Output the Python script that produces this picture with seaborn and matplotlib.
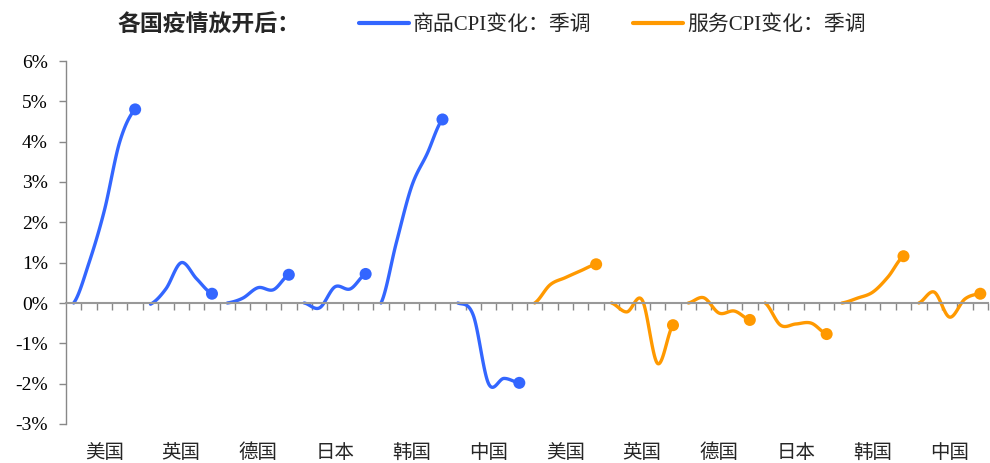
import numpy as np
import pandas as pd
import matplotlib
matplotlib.use("Agg")
import matplotlib.pyplot as plt
import matplotlib.transforms as mtransforms
from matplotlib.lines import Line2D
import seaborn as sns

# ---------------- data ----------------
countries = ["美国", "英国", "德国", "日本", "韩国", "中国"]
series_names = ["商品CPI变化：季调", "服务CPI变化：季调"]
goods = [
    [0.0, 1.0, 2.3, 4.0, 4.8],       # 美国
    [-0.03, 0.35, 1.0, 0.6, 0.23],   # 英国
    [0.0, 0.12, 0.38, 0.33, 0.7],    # 德国
    [0.0, -0.12, 0.4, 0.35, 0.72],   # 日本
    [0.0, 1.5, 2.9, 3.7, 4.55],      # 韩国
    [0.0, -0.3, -2.0, -1.87, -1.98], # 中国
]
services = [
    [0.0, 0.45, 0.63, 0.8, 0.96],    # 美国
    [0.0, -0.22, 0.07, -1.5, -0.55], # 英国
    [0.0, 0.13, -0.25, -0.2, -0.42], # 德国
    [0.0, -0.55, -0.52, -0.5, -0.77],# 日本
    [0.0, 0.12, 0.27, 0.65, 1.16],   # 韩国
    [0.0, 0.27, -0.35, 0.1, 0.23],   # 中国
]
yticks = [-3, -2, -1, 0, 1, 2, 3, 4, 5, 6]
ytick_labels = [f"{v}%" for v in yticks]
colors = {series_names[0]: "#3366FF", series_names[1]: "#FF9900"}

# ---------------- smoothing (rendering only) ----------------
def smooth(xs, ys, n=25):
    xs = np.asarray(xs, float); ys = np.asarray(ys, float)
    px = np.concatenate([[2 * xs[0] - xs[1]], xs, [2 * xs[-1] - xs[-2]]])
    py = np.concatenate([[ys[0]], ys, [ys[-1]]])
    ox, oy = [], []
    for i in range(1, len(px) - 2):
        t = np.linspace(0, 1, n, endpoint=(i == len(px) - 3))
        p0, p1, p2, p3 = py[i - 1], py[i], py[i + 1], py[i + 2]
        x0, x1, x2, x3 = px[i - 1], px[i], px[i + 1], px[i + 2]
        c = lambda a0, a1, a2, a3: 0.5 * ((2 * a1) + (-a0 + a2) * t +
                                          (2 * a0 - 5 * a1 + 4 * a2 - a3) * t ** 2 +
                                          (-a0 + 3 * a1 - 3 * a2 + a3) * t ** 3)
        ox.append(c(x0, x1, x2, x3)); oy.append(c(p0, p1, p2, p3))
    return np.concatenate(ox), np.concatenate(oy)

rows, ends = [], []
for s_idx, (sname, data) in enumerate(zip(series_names, [goods, services])):
    for g, vals in enumerate(data):
        base = (s_idx * len(countries) + g) * 5
        xs = np.arange(base, base + 5)
        sx, sy = smooth(xs, vals)
        for a, b in zip(sx, sy):
            rows.append({"x": a, "y": b, "series": sname, "unit": f"{s_idx}-{g}"})
        ends.append({"x": xs[-1], "y": vals[-1], "series": sname})
df = pd.DataFrame(rows)
df_end = pd.DataFrame(ends)

# ---------------- plot ----------------
sns.set_theme(style="white")
plt.rcParams["font.family"] = ["Liberation Serif", "Noto Sans CJK SC"]

fig = plt.figure(figsize=(9.9, 4.63), dpi=100)
ax = fig.add_axes([66 / 990, 1 - 424 / 463, (988 - 66) / 990, (424 - 61) / 463])

sns.lineplot(data=df, x="x", y="y", hue="series", units="unit", estimator=None,
             sort=False, palette=colors, linewidth=2.4, ax=ax, legend=False)
sns.scatterplot(data=df_end, x="x", y="y", hue="series", palette=colors, s=75,
                edgecolor="none", ax=ax, legend=False, zorder=5)

ax.set_xlim(-0.5, 59.5)
ax.set_ylim(-3, 6)
ax.set_xlabel("")
ax.set_ylabel("")
ax.set_yticks(yticks)
ax.set_yticklabels(ytick_labels, fontsize=14)
ax.tick_params(axis="y", direction="out", length=5, width=1, color="#888888",
               pad=8, left=True, labelcolor="black")

for sp in ["top", "right"]:
    ax.spines[sp].set_visible(False)
ax.spines["left"].set_color("#888888")
ax.spines["left"].set_linewidth(1)
ax.spines["bottom"].set_position(("data", 0))
ax.spines["bottom"].set_color("#999999")
ax.spines["bottom"].set_linewidth(1.5)
ax.set_xticks(np.arange(0.5, 60, 1))
ax.set_xticklabels([])
ax.tick_params(axis="x", direction="out", length=5, width=1, color="#888888", bottom=True)

trans = mtransforms.blended_transform_factory(ax.transData, ax.transAxes)
for s_idx in range(2):
    for g, c in enumerate(countries):
        xc = (s_idx * len(countries) + g) * 5 + 2
        ax.text(xc, -0.08, c, transform=trans, ha="center", va="center", fontsize=14)

fig.text(117 / 990, 1 - 25 / 463, "各国疫情放开后：", fontsize=16.5, fontweight="bold",
         ha="left", va="center")
handles = [Line2D([], [], color=colors[n], lw=3) for n in series_names]
fig.legend(handles, series_names, loc="center left", bbox_to_anchor=(359 / 990, 1 - 25 / 463),
           ncol=2, frameon=False, fontsize=15, handlelength=2.4, handletextpad=0.2,
           columnspacing=2.0, borderaxespad=0, borderpad=0)

fig.savefig("out.png", dpi=100)
